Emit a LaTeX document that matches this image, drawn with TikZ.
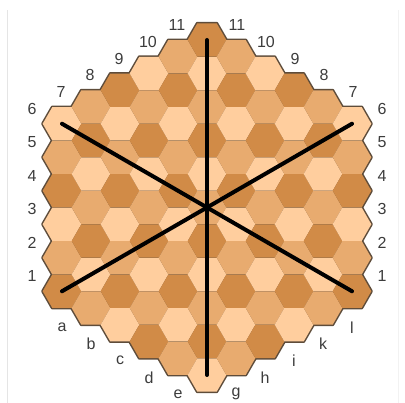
\documentclass[tikz,border=0pt]{standalone}
\usepackage{fontspec}
\setmainfont{Liberation Sans}
\usepackage{tikz}

\definecolor{hexc0}{HTML}{FFCE9E}
\definecolor{hexc1}{HTML}{D18B47}
\definecolor{hexc2}{HTML}{E8AB6F}
\definecolor{rim}{HTML}{5E4C3A}
\definecolor{labelgray}{HTML}{3C3C3C}

\tikzset{
  lbl/.style={text=labelgray,font=\fontsize{16}{18}\selectfont,inner sep=0pt},
  diag/.style={line width=4pt,line cap=round}
}

\begin{document}
\begin{tikzpicture}[x=1pt,y=-1pt]
\useasboundingbox (0,0) rectangle (405,403);

% Frame
\draw[gray!20] (7,10) -- (7,403);
\draw[gray!10] (398,10) -- (398,403);

% Board rim (the cells cover the inner edges)
\foreach \q in {-5,...,5}{
  \pgfmathtruncatemacro\n{11-abs(\q)}
  \foreach \r in {1,...,\n}{
    \draw[rim,line width=3pt,line join=round] ({207+29*\q},{375-16.75*abs(\q)-33.5*(\r-1)})
      +(0:19.33) -- +(60:19.33) -- +(120:19.33) -- +(180:19.33) -- +(240:19.33) -- +(300:19.33) -- cycle;
  }
}

% Cells
\foreach \q in {-5,...,5}{
  \pgfmathtruncatemacro\n{11-abs(\q)}
  \foreach \r in {1,...,\n}{
    \pgfmathtruncatemacro\tone{mod(30-abs(\q)-2*(\r-1),3)}
    \fill[hexc\tone] ({207+29*\q},{375-16.75*abs(\q)-33.5*(\r-1)})
      +(0:19.33) -- +(60:19.33) -- +(120:19.33) -- +(180:19.33) -- +(240:19.33) -- +(300:19.33) -- cycle;
  }
}

% Corner cells
\coordinate (a1) at (62,291.25);
\coordinate (a6) at (62,123.75);
\coordinate (f1) at (207,375);
\coordinate (f11) at (207,40);
\coordinate (l1) at (352,291.25);
\coordinate (l6) at (352,123.75);

% Lines through the centre
\draw[diag] (f11) -- (f1);
\draw[diag] (a6) -- (l1);
\draw[diag] (a1) -- (l6);

% Ranks
\foreach \r in {1,...,6}{
  \node[lbl] (rankL\r) at (32,{309.75-33.5*\r}) {\r};
  \node[lbl] (rankR\r) at (382,{309.75-33.5*\r}) {\r};
}
\foreach \r in {7,...,11}{
  \node[lbl] (rankL\r) at ({29*\r-142},{209.25-16.75*\r}) {\r};
  \node[lbl] (rankR\r) at ({556-29*\r},{209.25-16.75*\r}) {\r};
}

% Files
\foreach \f [count=\q from -5] in {a,b,c,d,e,f,g,h,i,k,l}{
  \node[lbl] (file\f) at ({207+29*\q},{411-16.75*abs(\q)}) {\f};
}
\end{tikzpicture}
\end{document}
